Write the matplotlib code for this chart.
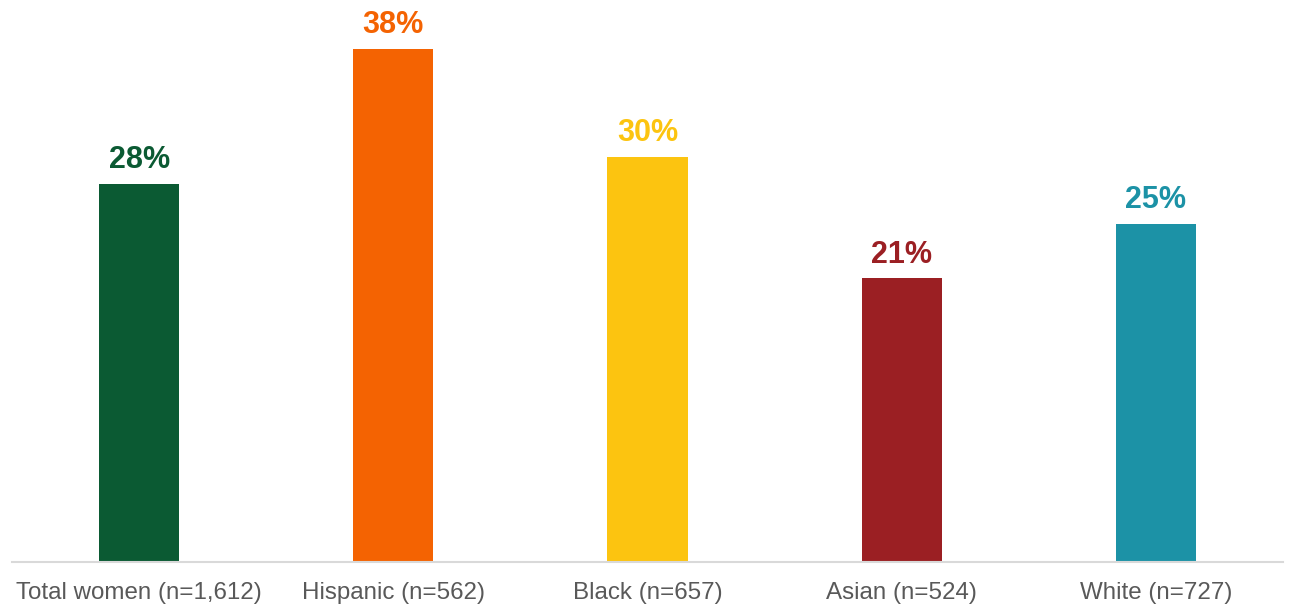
import matplotlib.pyplot as plt

# data
categories = ["Total women (n=1,612)", "Hispanic (n=562)", "Black (n=657)",
              "Asian (n=524)", "White (n=727)"]
values = [28, 38, 30, 21, 25]
colors = ["#0B5A33", "#F46302", "#FCC410", "#9B1F23", "#1C92A6"]

plt.rcParams['font.family'] = ['Liberation Sans', 'DejaVu Sans']

fig = plt.figure(figsize=(12.89, 6.05), dpi=100)
ax = fig.add_axes([12 / 1289, 43 / 605, 1271 / 1289, 562 / 605])

x = range(len(categories))
ax.bar(x, values, width=0.315, color=colors)

for i, v in enumerate(values):
    ax.text(i, v + 0.65, f"{v}%", ha="center", va="bottom",
            fontsize=22, fontweight="bold", color=colors[i])

ax.set_xlim(-0.5, len(categories) - 0.5)
ax.set_ylim(0, 41.6)
ax.set_xticks(list(x))
ax.set_xticklabels(categories, fontsize=17.4, color="#595959")
ax.tick_params(axis="x", length=0, pad=14.5)
ax.set_yticks([])

for s in ["top", "right", "left"]:
    ax.spines[s].set_visible(False)
ax.spines["bottom"].set_color("#D9D9D9")
ax.spines["bottom"].set_linewidth(1.5)

fig.savefig("out.png", dpi=100)
